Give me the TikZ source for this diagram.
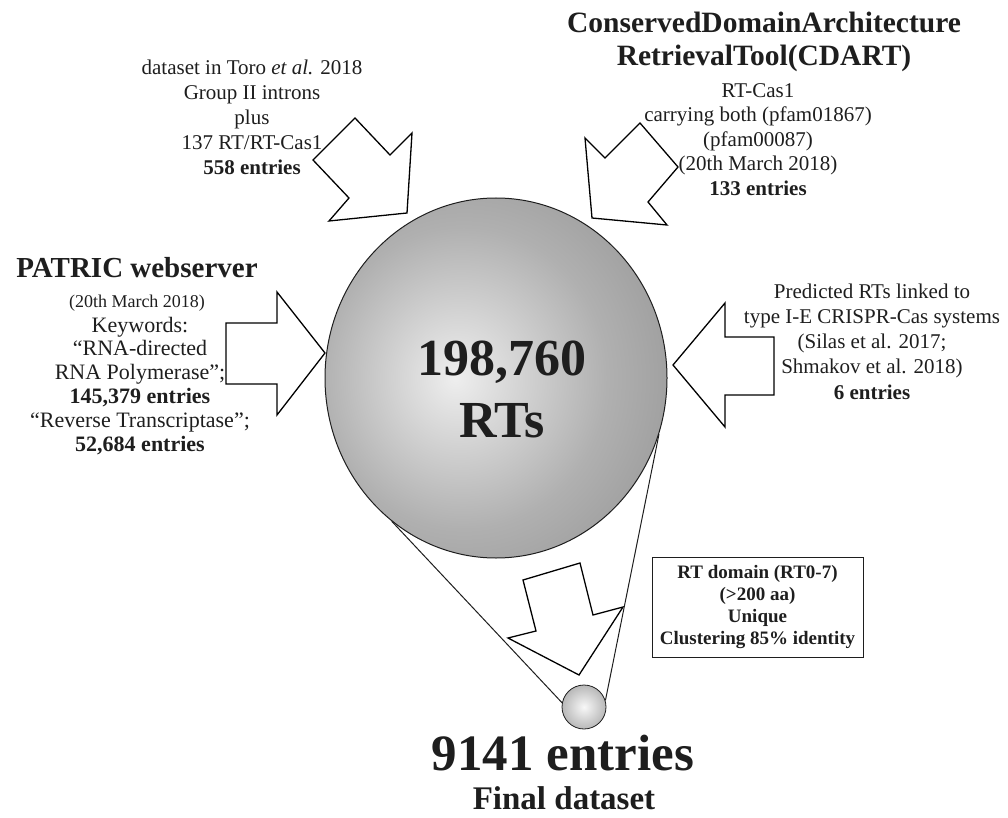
\documentclass[tikz,border=0pt]{standalone}
\usepackage{fontspec}
\setmainfont{Liberation Serif}
\usetikzlibrary{shapes.geometric}

\definecolor{ballC}{RGB}{238,238,238}
\definecolor{ballM}{RGB}{176,176,176}
\definecolor{ballO}{RGB}{140,140,140}
\definecolor{ballE}{RGB}{100,100,100}
\definecolor{dotC}{RGB}{248,248,248}
\definecolor{dotE}{RGB}{120,120,120}
\definecolor{ink}{RGB}{30,30,30}

% soft grey sphere for the RT pool and the final set
\pgfdeclareradialshading{bigball}{\pgfpoint{-6bp}{0bp}}{%
  color(0bp)=(ballC); color(21bp)=(ballM); color(41bp)=(ballO);
  color(50bp)=(ballE); color(100bp)=(ballE)}
\pgfdeclareradialshading{smallball}{\pgfpoint{0bp}{0bp}}{%
  color(0bp)=(dotC); color(50bp)=(dotE); color(100bp)=(dotE)}

\tikzset{
  blockarrow/.style={draw=black, fill=white, line width=1.3pt, line join=miter},
  conn/.style={draw=ink, line width=1pt},
  txt/.style={align=center, inner sep=0pt, anchor=north, text=ink},
  body/.style={txt, font=\fontsize{21}{25.2}\selectfont},
  headline/.style={inner sep=0pt, anchor=base, text=ink, font=\bfseries\fontsize{29}{33}\selectfont},
}

\begin{document}
\begin{tikzpicture}[x=1pt, y=-1pt]
\useasboundingbox (0,0) rectangle (1008,818);

\coordinate (poolc) at (496,378);
\coordinate (finalc) at (584,707);

% block arrows feeding the pool
\draw[blockarrow] (313,160) -- (355,118) -- (390,155) -- (412,133) -- (407,213) -- (329,221) -- (349,198) -- cycle;
\draw[blockarrow] (585,138) -- (605,158) -- (640,123) -- (678,167) -- (648,202) -- (667,225) -- (592,218) -- cycle;
\draw[blockarrow] (226,323) -- (277,323) -- (277,292) -- (325,353) -- (277,415) -- (277,384) -- (226,384) -- cycle;
\draw[blockarrow] (673,365) -- (725,303) -- (725,337) -- (774,337) -- (774,395) -- (725,395) -- (725,427) -- cycle;
% filtering arrow
\draw[blockarrow] (523,580) -- (580,563) -- (593,615) -- (623,607) -- (579,675) -- (508,638) -- (536,631) -- cycle;

% spheres
\node[ellipse, draw=ink, line width=1pt, shading=bigball, minimum width=342pt, minimum height=360pt, inner sep=0pt] (pool) at (poolc) {};
\node[circle, draw=ink, line width=0.8pt, shading=smallball, minimum size=44pt, inner sep=0pt] (final) at (finalc) {};

% cone from the pool down to the final set
\draw[conn] (pool.234.6) -- (final.169);
\draw[conn] (pool.341.3) -- (final.17);

% pool size
\node[txt, font=\bfseries\fontsize{52}{62}\selectfont] (total) at (502,331.6) {\strut 198,760\\RTs};

% sources
\node[body] (toro) at (252,56.3) {\strut dataset in Toro \textit{et al.} 2018\\Group II introns\\plus\\137 RT/RT-Cas1\\\textbf{558 entries}};

\node[txt, font=\bfseries\fontsize{29.5}{33}\selectfont] (cdart) at (764,8.9) {\strut ConservedDomainArchitecture\\RetrievalTool(CDART)};
\node[txt, font=\fontsize{21}{24.5}\selectfont] (cdartsub) at (758,79.9) {\strut RT-Cas1\\carrying both (pfam01867)\\(pfam00087)\\(20th March 2018)\\\textbf{133 entries}};

\node[headline] (patric) at (137,277) {PATRIC webserver};
\node[inner sep=0pt, anchor=base, text=ink, font=\fontsize{18}{22}\selectfont] (patricdate) at (137,307) {(20th March 2018)};
\node[txt, font=\fontsize{22}{23.8}\selectfont] (patricsub) at (140,315.3) {\strut Keywords:\\“RNA-directed\\RNA Polymerase”;\\\textbf{145,379 entries}\\“Reverse Transcriptase”;\\\textbf{52,684 entries}};

\node[body] (crispr) at (872,280.4) {\strut Predicted RTs linked to\\type I-E CRISPR-Cas systems\\(Silas et al. 2017;\\Shmakov et al. 2018)\\\textbf{6 entries}};

% filtering criteria
\node[draw=ink, line width=1pt, minimum width=211pt, minimum height=100pt, inner sep=0pt, align=center, text=ink, font=\bfseries\fontsize{19}{22}\selectfont] (criteria) at (757.5,607) {RT domain (RT0-7)\\(>200 aa)\\Unique\\Clustering 85\% identity};

% result
\node[inner sep=0pt, anchor=base, text=ink, font=\bfseries\fontsize{51}{60}\selectfont] (count) at (563,770) {9141 entries};
\node[inner sep=0pt, anchor=base, text=ink, font=\bfseries\fontsize{33}{40}\selectfont] (label) at (564,809) {Final dataset};
\end{tikzpicture}
\end{document}
